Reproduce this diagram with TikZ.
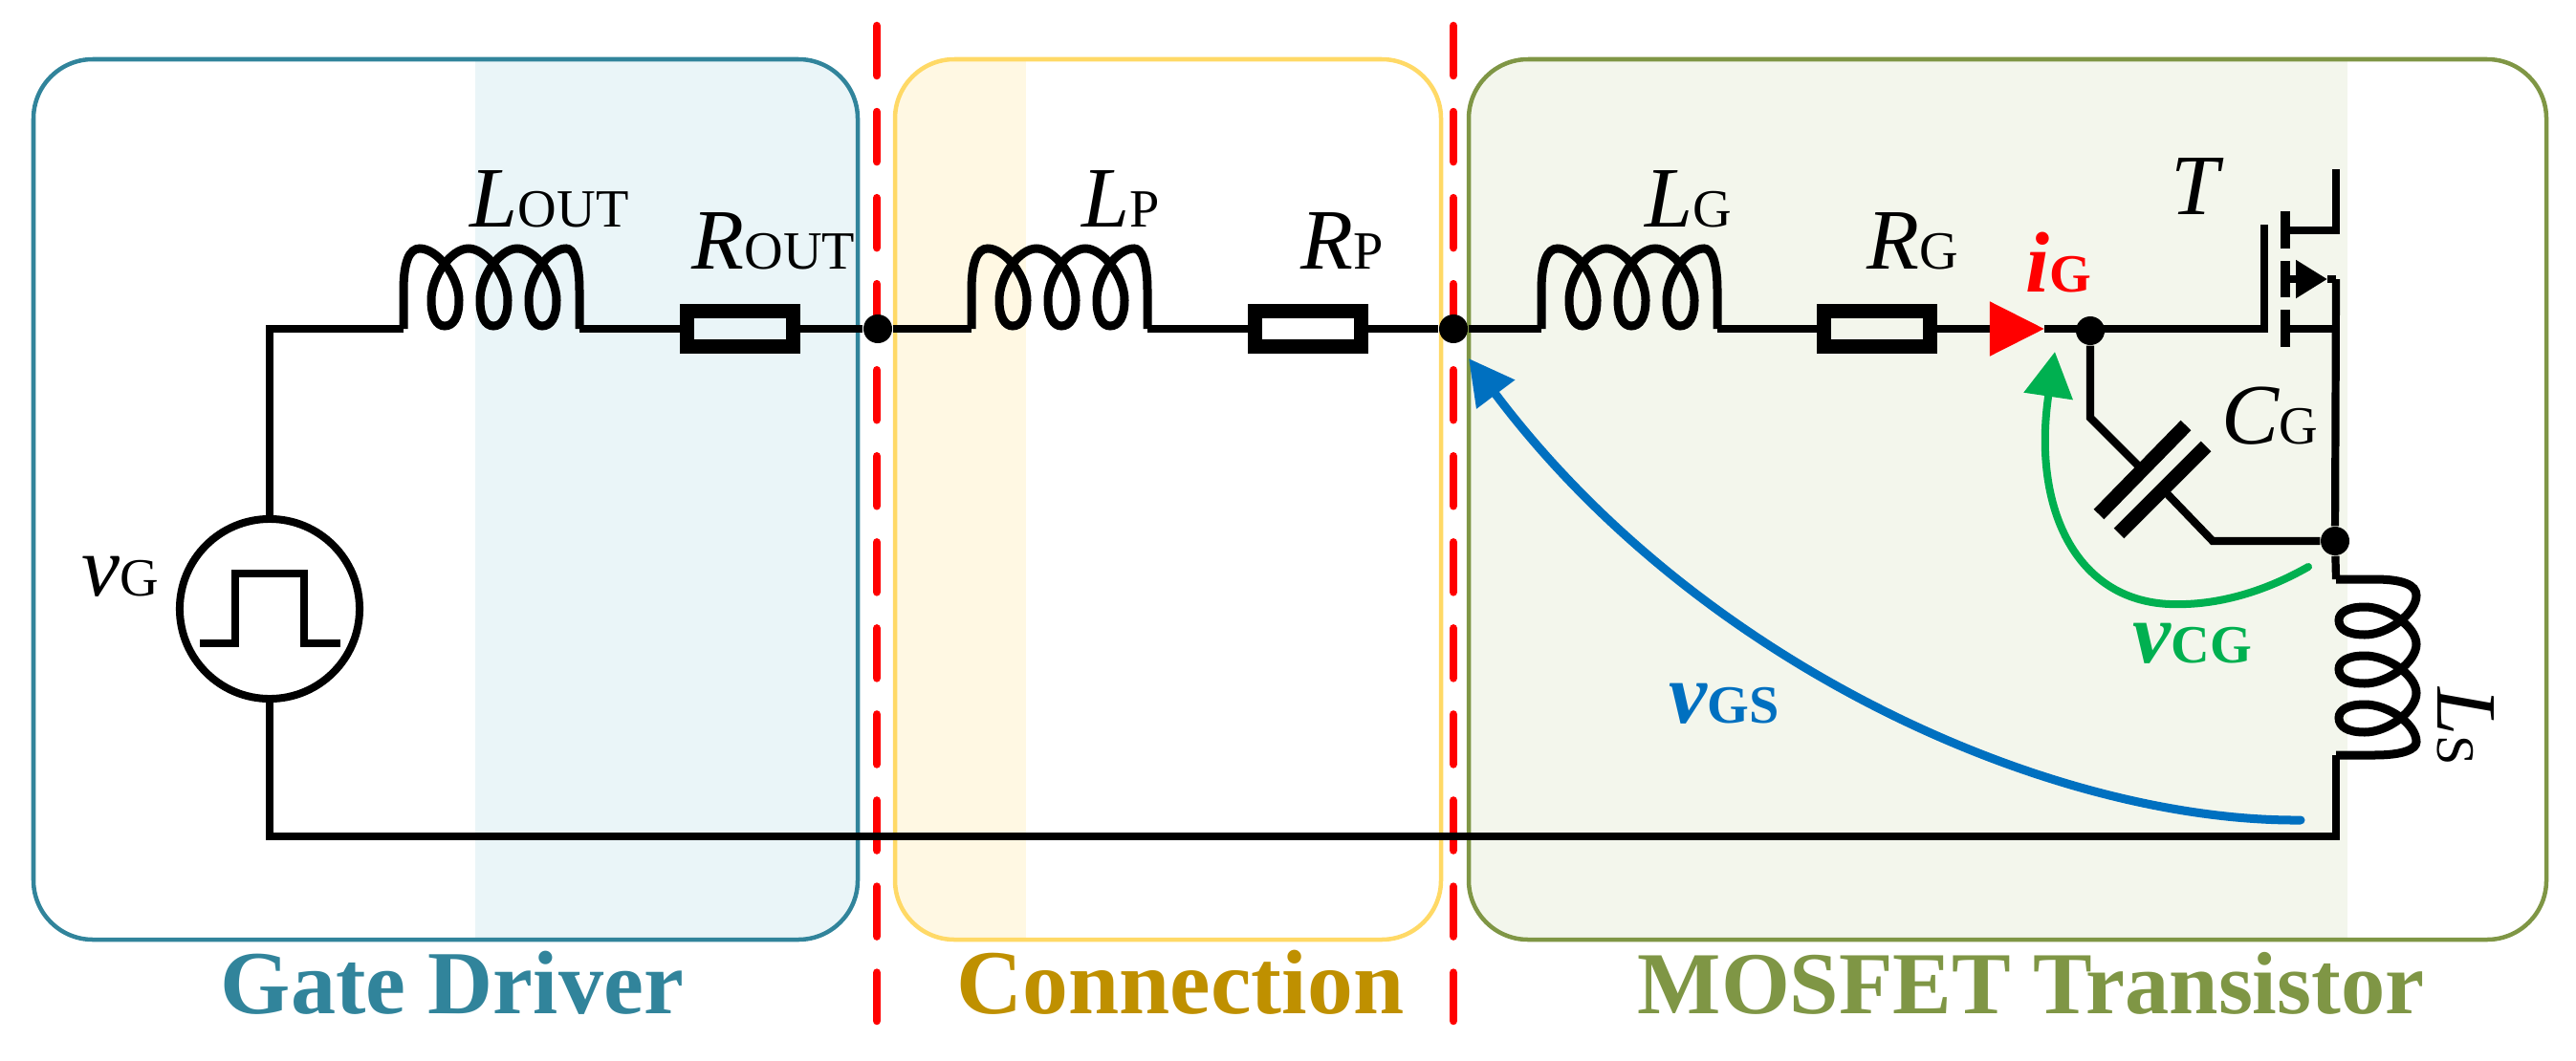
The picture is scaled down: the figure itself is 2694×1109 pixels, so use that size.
\documentclass[tikz,border=0pt]{standalone}
\usepackage{fontspec}
\setmainfont{Liberation Serif}
\usetikzlibrary{arrows.meta}
\definecolor{driver}{HTML}{31849B}
\definecolor{driverfill}{HTML}{EAF5F8}
\definecolor{link}{HTML}{FFD966}
\definecolor{linkfill}{HTML}{FFF8E3}
\definecolor{linktext}{HTML}{BF9000}
\definecolor{mosfet}{HTML}{7F9645}
\definecolor{mosfetfill}{HTML}{F3F6EC}
\definecolor{vgsblue}{HTML}{0070C0}
\definecolor{vcggreen}{HTML}{00B050}
\newcommand{\bigf}{\fontsize{25.6}{30}\selectfont}
\newcommand{\subf}{\fontsize{16}{20}\selectfont}
\newcommand{\lab}[2]{{\bigf\itshape #1}{\subf #2}}
\newcommand{\coil}[2]{
    \draw[coilline,shift={(#1)},rotate=#2] (0,0) -- (0,-40) .. controls (0,-70) and (6,-84) .. (17,-84)
    \foreach \k in {0,51,102} {
        .. controls (35+\k,-84) and (58+\k,-55) .. (58+\k,-30)
        .. controls (58+\k,-12) and (52+\k,-3) .. (43+\k,-3)
        .. controls (35+\k,-3) and (29+\k,-12) .. (29+\k,-30)
        .. controls (29+\k,-55) and (50+\k,-84) .. (68+\k,-84)
    }
    .. controls (178,-84) and (184,-70) .. (184,-40) -- (184,0);
}
\tikzset{
    wire/.style={line width=.082cm},
    coilline/.style={line width=.09cm},
    res/.style={draw,line width=.15cm,minimum width=1.11cm,minimum height=.37cm,inner sep=0pt},
    dot/.style={circle,fill=black,inner sep=0pt,minimum size=.3cm},
    txt/.style={anchor=base west,inner sep=0pt},
    title/.style={anchor=base west,inner sep=0pt,font=\bfseries},
    zone/.style={line width=.045cm,rounded corners=.62cm},
    cut/.style={draw=red,line width=.085cm,line cap=round,dash pattern=on .52cm off .38cm},
    channel/.style={line width=.1cm},
    plate/.style={line width=.15cm},
}
\begin{document}
\begin{tikzpicture}[x=.01cm,y=-.01cm]
    \useasboundingbox (0,0) rectangle (2694,1109);
    % zones
    \begin{scope}
        \clip[rounded corners=.62cm] (35,62) rectangle (897,983);
        \fill[driverfill] (497,62) rectangle (897,983);
    \end{scope}
    \begin{scope}
        \clip[rounded corners=.62cm] (936,62) rectangle (1507,983);
        \fill[linkfill] (936,62) rectangle (1073,983);
    \end{scope}
    \begin{scope}
        \clip[rounded corners=.62cm] (1536,62) rectangle (2663,983);
        \fill[mosfetfill] (1536,62) rectangle (2455,983);
    \end{scope}
    \draw[zone,driver] (35,62) rectangle (897,983);
    \draw[zone,link] (936,62) rectangle (1507,983);
    \draw[zone,mosfet] (1536,62) rectangle (2663,983);
    \draw[cut] (917,27) -- (917,1068);
    \draw[cut] (1520,27) -- (1520,1068);
    % parts
    \node[circle,draw,line width=.08cm,minimum size=1.88cm,inner sep=0pt] (vsrc) at (282,637) {};
    \node[res] (Rout) at (774,344) {};
    \node[res] (Rp) at (1368,344) {};
    \node[res] (Rg) at (1963,344) {};
    \node[dot] (J1) at (918,344) {};
    \node[dot] (J2) at (1520,344) {};
    \node[dot] (J3) at (2186,346) {};
    \node[dot] (J4) at (2442,566) {};
    \coordinate (Lout1) at (422,344);
    \coordinate (Lout2) at (606,344);
    \coordinate (Lp1) at (1016,344);
    \coordinate (Lp2) at (1200,344);
    \coordinate (Lg1) at (1612,344);
    \coordinate (Lg2) at (1796,344);
    \coordinate (Ls1) at (2443,606);
    \coordinate (Ls2) at (2443,790);
    \coordinate (bot) at (2443,875);
    \coordinate (itip) at (2138,344);
    \coordinate (gbot) at (2368,344);
    \coordinate (gtop) at (2368,235);
    \coordinate (cup) at (2186,437);
    \coordinate (cmid1) at (2240,491);
    \coordinate (cmid2) at (2262,512);
    \coordinate (clow) at (2314,566);
    \coordinate (chs) at (2390,292);
    \coordinate (stip) at (2434,292);
    \coordinate (srce) at (2443,292);
    \coordinate (chb) at (2390,344);
    \coordinate (bodyr) at (2443,344);
    \coordinate (chd) at (2390,241);
    \coordinate (drr) at (2443,241);
    \coordinate (drt) at (2443,177);
    % coils
    \coil{Lout1}{0}
    \coil{Lp1}{0}
    \coil{Lg1}{0}
    \coil{Ls1}{-90}
    % wires
    \draw[wire] (Lout1) -| (vsrc.north);
    \draw[wire] (vsrc.south) |- (bot) -- (Ls2);
    \draw[wire] (Lout2) -- (Rout);
    \draw[wire] (Rout) -- (J1) -- (Lp1);
    \draw[wire] (Lp2) -- (Rp);
    \draw[wire] (Rp) -- (J2) -- (Lg1);
    \draw[wire] (Lg2) -- (Rg);
    \draw[wire,-{Triangle[color=red,fill=red,length=.57cm,width=.55cm]}] (Rg) -- (itip);
    \draw[wire] (itip) -- (gbot) -- (gtop);
    \draw[wire] (J3) -- (cup) -- (cmid1);
    \draw[wire] (cmid2) -- (clow) -- (J4);
    \draw[wire] (srce) -- (J4) -- (Ls1);
    \draw[wire] (chb) -- (bodyr);
    \draw[wire] (chd) -- (drr) -- (drt);
    \draw[wire,-{Triangle[length=.33cm,width=.38cm]}] (chs) -- (stip);
    \draw[wire] (stip) -- (srce);
    \foreach \a/\b in {221/260,273/311,324/363}
        \draw[channel] (2390,\a) -- (2390,\b);
    \draw[plate] (2195,538) -- (2286,445);
    \draw[plate] (2216,558) -- (2307,467);
    % pulse
    \draw[line width=.075cm] (209,673) -- (246,673) -- (246,600) -- (318,600) -- (318,673) -- (356,673);
    % voltages
    \draw[line width=.09cm,line cap=round,vgsblue,-{Triangle[length=.47cm,width=.48cm]}] (2406,858) .. controls (2150,860) and (1780,700) .. (1536,375);
    \draw[line width=.08cm,line cap=round,vcggreen,-{Triangle[length=.47cm,width=.5cm]}] (2414,593) .. controls (2370,618) and (2320,634) .. (2269,632) .. controls (2170,628) and (2125,530) .. (2149,368);
    % labels
    \node[txt] (tLout) at (491,237) {\lab{L}{OUT}};
    \node[txt] (tRout) at (723,281) {\lab{R}{OUT}};
    \node[txt] (tLp) at (1131,237) {\lab{L}{P}};
    \node[txt] (tRp) at (1360,281) {\lab{R}{P}};
    \node[txt] (tLg) at (1720,237) {\lab{L}{G}};
    \node[txt] (tRg) at (1952,281) {\lab{R}{G}};
    \node[txt,red] (tig) at (2118,305) {\bfseries\lab{i}{G}};
    \node[txt] (tT) at (2270,224) {\bigf\itshape T};
    \node[txt] (tCg) at (2323,464) {\lab{C}{G}};
    \node[txt] (tvg) at (85,623) {\lab{v}{G}};
    \node[txt,vcggreen] (tvcg) at (2230,693) {\bfseries\lab{v}{CG}};
    \node[txt,vgsblue] (tvgs) at (1745,756) {\bfseries\lab{v}{GS}};
    \node[txt,rotate=-90] (tLs) at (2549,719) {\lab{L}{S}};
    \node[title,driver] (tdriver) at (230,1060) {\fontsize{26.8}{30}\selectfont Gate Driver};
    \node[title,linktext] (tlink) at (1000,1060) {\fontsize{27.2}{30}\selectfont Connection};
    \node[title,mosfet] (tmosfet) at (1712,1060) {\fontsize{26.3}{30}\selectfont MOSFET Transistor};
\end{tikzpicture}
\end{document}
